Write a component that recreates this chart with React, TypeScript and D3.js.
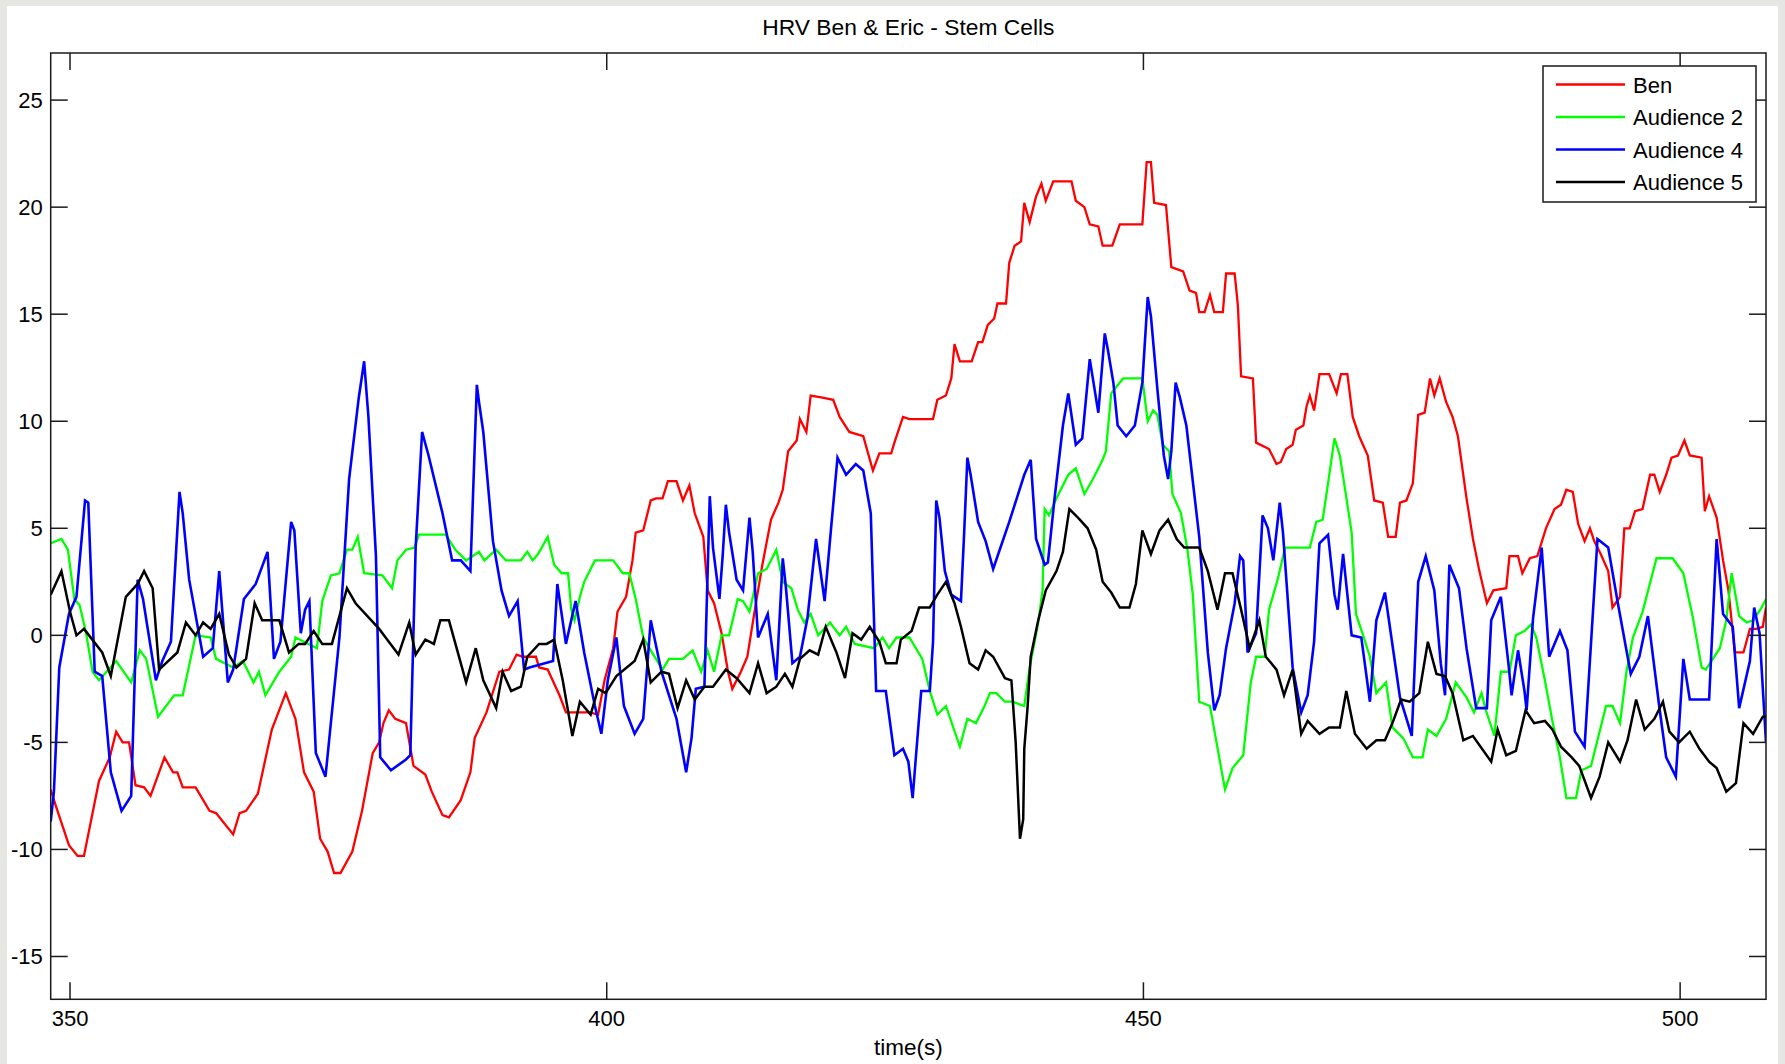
import React, { useEffect, useRef } from 'react';
import * as d3 from 'd3';

// [time (s), HRV] vertices
const ben: [number, number][] = [
  [348.2, -7.2], [348.7, -8.0], [349.9, -9.8], [350.7, -10.3], [351.3, -10.3], [352.7, -6.8], [353.7, -5.7],
  [354.3, -4.5], [354.9, -5.0], [355.5, -5.0], [356.1, -7.0], [356.9, -7.1], [357.5, -7.5], [358.8, -5.7],
  [359.6, -6.4], [360, -6.4], [360.5, -7.1], [361.7, -7.1], [363, -8.2], [363.6, -8.3], [365.2, -9.3],
  [365.8, -8.3], [366.4, -8.2], [367.5, -7.4], [368.8, -4.4], [370.1, -2.7], [371, -3.9], [371.8, -6.4],
  [372.7, -7.3], [373.3, -9.5], [374, -10.1], [374.6, -11.1], [375.2, -11.1], [376.3, -10.1], [377.2, -8.2],
  [378.2, -5.5], [378.8, -5.0], [379.2, -4.1], [379.7, -3.5], [380.3, -3.9], [381.3, -4.1], [382, -6.1],
  [383.1, -6.5], [383.7, -7.3], [384.7, -8.4], [385.3, -8.5], [386.4, -7.7], [387.3, -6.4], [387.7, -4.8],
  [388.8, -3.6], [390, -1.7], [390.9, -1.6], [391.6, -0.9], [392.2, -1.0], [393.4, -1.0], [393.7, -1.5],
  [394.5, -1.6], [395.6, -2.8], [396.2, -3.6], [398.4, -3.6], [399.2, -3.7], [399.8, -2.1], [400.6, -0.6],
  [401, 1.1], [401.8, 1.8], [402.4, 3.5], [402.7, 4.8], [403.4, 4.9], [404.1, 6.3], [404.6, 6.4], [405.2, 6.4],
  [405.7, 7.2], [406.5, 7.2], [407.1, 6.3], [407.7, 7.0], [408.2, 5.7], [409, 4.6], [409.4, 2.1], [410, 1.5],
  [410.7, 0.1], [411.3, -1.7], [411.7, -2.5], [412.5, -1.7], [413.1, -1.0], [413.8, 1.2], [414.5, 3.3],
  [415.3, 5.4], [416, 6.2], [416.4, 6.8], [416.9, 8.6], [417.7, 9.1], [418, 10.1], [418.6, 9.5], [419, 11.2],
  [420.1, 11.1], [421.1, 11.0], [421.7, 10.2], [422.6, 9.5], [423.9, 9.3], [424.8, 7.7], [425.4, 8.5],
  [426.5, 8.5], [426.8, 9.0], [427.6, 10.2], [428.2, 10.1], [430.4, 10.1], [430.8, 11.0], [431.6, 11.2],
  [432.1, 12.0], [432.4, 13.6], [432.9, 12.8], [434, 12.8], [434.6, 13.7], [435, 13.7], [435.5, 14.5],
  [436.1, 14.8], [436.4, 15.5], [437.2, 15.5], [437.5, 17.4], [438, 18.2], [438.6, 18.4], [438.9, 20.2],
  [439.4, 19.3], [440, 20.5], [440.5, 21.1], [440.9, 20.3], [441.6, 21.2], [443.3, 21.2], [443.7, 20.3],
  [444.5, 20.0], [445, 19.2], [445.8, 19.1], [446.2, 18.2], [447.1, 18.2], [447.8, 19.2], [449.9, 19.2],
  [450.3, 22.1], [450.7, 22.1], [451, 20.2], [452.1, 20.1], [452.6, 17.2], [453.7, 17.0], [454.3, 16.1],
  [454.9, 16.0], [455.2, 15.1], [455.7, 15.1], [456.2, 15.9], [456.6, 15.1], [457.4, 15.1], [457.7, 16.9],
  [458.5, 16.9], [458.8, 15.4], [459.1, 12.1], [460.2, 12.0], [460.5, 9.0], [461.7, 8.7], [462.4, 8.0],
  [462.8, 8.1], [463.3, 8.7], [463.9, 8.9], [464.2, 9.6], [464.9, 9.8], [465.2, 10.7], [465.5, 11.2],
  [465.9, 10.5], [466.4, 12.2], [467.3, 12.2], [468, 11.3], [468.4, 12.2], [469, 12.2], [469.5, 10.2],
  [470.1, 9.3], [470.9, 8.4], [471.5, 6.3], [472.3, 6.2], [472.8, 4.6], [473.5, 4.6], [473.9, 6.2],
  [474.5, 6.3], [475.1, 7.1], [475.6, 10.3], [476.2, 10.4], [476.7, 12.0], [477.1, 11.2], [477.6, 12.0],
  [478.2, 10.9], [478.8, 10.2], [479.3, 9.3], [480.1, 6.4], [480.7, 4.5], [481.3, 3.0], [482, 1.5],
  [482.6, 2.1], [483.8, 2.2], [484.1, 3.7], [484.9, 3.7], [485.3, 2.9], [486, 3.6], [486.7, 3.7], [487.5, 5.0],
  [488.3, 5.9], [488.9, 6.1], [489.4, 6.8], [490, 6.7], [490.5, 5.2], [491.1, 4.4], [491.6, 5.0], [492, 4.4],
  [492.6, 3.8], [493.3, 3.0], [493.7, 1.3], [494.4, 1.8], [494.8, 5.0], [495.3, 5.0], [495.8, 5.8],
  [496.5, 5.9], [497.2, 7.5], [497.6, 7.5], [498.1, 6.7], [498.7, 7.5], [499.2, 8.3], [499.8, 8.4],
  [500.4, 9.1], [500.9, 8.4], [502, 8.3], [502.3, 5.8], [502.7, 6.5], [503.4, 5.5], [504, 3.5], [504.5, 2.1],
  [505.1, -0.8], [505.9, -0.8], [506.5, 0.3], [507.1, 0.3], [507.7, 0.4], [508, 1.3],
];

const audience2: [number, number][] = [
  [348.2, 4.3], [349.2, 4.5], [349.8, 4.0], [350.4, 1.7], [350.9, 1.4], [351.5, 0.1], [352.1, -1.7],
  [352.7, -2.1], [354.3, -1.2], [355.7, -2.2], [356.5, -0.7], [357.1, -1.1], [358.2, -3.8], [359.7, -2.8],
  [360.5, -2.8], [361.7, 0], [363.1, -0.1], [363.6, -1.1], [365.2, -1.5], [366.1, -1.2], [367.1, -2.2],
  [367.6, -1.7], [368.2, -2.8], [369.5, -1.7], [370.6, -1.0], [371, -0.1], [371.8, -0.3], [373, -0.6],
  [373.5, 1.6], [374.3, 2.8], [375.1, 2.9], [375.8, 4.0], [376.3, 4.0], [376.8, 4.6], [377.4, 2.9],
  [379.1, 2.8], [380, 2.2], [380.5, 3.5], [381.3, 4.0], [382.1, 4.1], [382.5, 4.7], [385, 4.7], [385.9, 4.0],
  [386.9, 3.5], [388.1, 3.9], [388.6, 3.5], [389.7, 4.0], [390.6, 3.5], [392, 3.5], [392.6, 3.9], [393.1, 3.5],
  [393.6, 3.8], [394.5, 4.6], [395.1, 3.3], [395.8, 2.9], [396.4, 2.9], [396.7, 1.2], [397, 0.7], [397.5, 1.8],
  [397.9, 2.5], [398.9, 3.5], [400.6, 3.5], [401.5, 2.9], [402.1, 2.9], [402.7, 1.7], [403.4, -0.1],
  [404.1, -0.7], [405.2, -1.6], [405.8, -1.1], [407.1, -1.1], [408, -0.7], [408.8, -1.7], [409.4, -0.7],
  [410, -1.7], [410.7, 0], [411.4, 0], [412.2, 1.7], [412.7, 1.6], [413.3, 1.1], [414.1, 2.9], [414.9, 3.1],
  [415.8, 4.0], [416.4, 2.5], [417.2, 2.2], [417.8, 1.2], [418.4, 0.6], [419, 1.0], [419.7, 0], [420.8, 0.6],
  [421.7, 0], [422.3, 0.4], [423.1, -0.4], [424.9, -0.6], [425.7, -0.1], [426.3, -0.6], [427, -0.1],
  [428.2, -0.1], [429.4, -1.1], [430.1, -2.6], [430.8, -3.7], [431.6, -3.3], [432.9, -5.2], [433.6, -3.9],
  [434.4, -4.1], [435.2, -3.3], [435.7, -2.7], [436.3, -2.7], [437.1, -3.1], [437.8, -3.1], [438.9, -3.3],
  [439.4, -1.5], [440.2, 0.6], [440.6, 2.1], [440.8, 5.9], [441.2, 5.6], [441.9, 6.4], [443, 7.5],
  [443.7, 7.8], [444.5, 6.6], [445.3, 7.3], [446.2, 8.2], [446.5, 8.6], [447, 11.3], [448.1, 12.0],
  [449.9, 12.0], [450.4, 10.0], [450.9, 10.5], [451.3, 10.3], [451.8, 8.9], [452.4, 8.6], [452.7, 6.6],
  [453.5, 5.7], [454.1, 4.0], [454.6, 1.9], [455.2, -3.1], [456.2, -3.3], [457.6, -7.2], [458.3, -6.2],
  [459.3, -5.6], [460, -2.2], [460.5, -1.0], [461.3, -1.0], [461.7, 1.2], [462.5, 2.6], [463.2, 4.1],
  [465.5, 4.1], [466.1, 5.3], [466.7, 5.4], [467.2, 7.1], [467.8, 9.2], [468.3, 8.4], [468.7, 7.1],
  [469.4, 4.8], [469.8, 1.0], [470.4, 0.1], [471.1, -1.0], [471.7, -2.7], [472.6, -2.2], [473.2, -4.3],
  [474.2, -4.8], [475.1, -5.7], [476, -5.7], [476.5, -4.4], [477.3, -4.7], [478.2, -3.9], [479.1, -2.2],
  [480.1, -2.9], [480.8, -3.6], [481.5, -2.7], [481.9, -3.5], [482.7, -4.7], [483.3, -1.7], [484.1, -1.7],
  [484.7, 0], [485.5, 0.2], [486.1, 0.5], [486.6, -0.1], [487.4, -2.1], [488.1, -4.0], [488.8, -5.7],
  [489.4, -7.6], [490.3, -7.6], [490.8, -6.3], [491.7, -6.1], [493.1, -3.3], [493.7, -3.3], [494.4, -4.1],
  [495, -1.7], [495.6, -0.1], [496.5, 1.1], [497.8, 3.6], [499.3, 3.6], [500.3, 2.9], [501.2, 0.8],
  [502, -1.5], [502.4, -1.6], [503.7, -0.6], [504.3, 0.7], [504.8, 2.9], [505.5, 0.9], [506.2, 0.6],
  [506.8, 0.7], [507.6, 1.3], [508, 1.7],
];

const audience4: [number, number][] = [
  [348.2, -8.7], [348.5, -7.3], [349, -1.5], [349.9, 1.0], [350.6, 1.8], [351.4, 6.3], [351.7, 6.2],
  [352.3, -1.7], [353, -1.9], [353.8, -6.4], [354.8, -8.2], [355.7, -7.5], [356.3, 2.6], [356.8, 1.7],
  [358, -2.1], [358.6, -1.2], [359.4, -0.3], [360.2, 6.7], [360.5, 5.7], [361.1, 2.6], [362.4, -1.0],
  [363.3, -0.6], [363.9, 3.0], [364.7, -2.2], [365.2, -1.6], [366.2, 1.7], [367.3, 2.4], [368.4, 3.9],
  [369, -1.1], [369.6, -0.3], [370.6, 5.3], [370.9, 4.9], [371.5, 0.1], [371.9, 1.2], [372.3, 1.6],
  [372.9, -5.5], [373.8, -6.6], [375.1, -0.1], [376, 7.3], [376.9, 11.1], [377.4, 12.8], [377.8, 10.2],
  [378.5, 3.7], [378.9, -5.7], [379.9, -6.3], [381.3, -5.8], [381.7, -5.6], [382.2, 4.1], [382.8, 9.5],
  [383.4, 8.4], [384.7, 5.7], [385.6, 3.5], [386.4, 3.5], [387.3, 3.0], [387.9, 11.7], [388.1, 10.9],
  [388.5, 9.5], [389.4, 4.4], [390.2, 2.1], [390.9, 0.9], [391.7, 1.6], [392.3, -1.6], [392.8, -1.5],
  [395, -1.2], [395.4, 2.4], [396.2, -0.4], [397.1, 1.6], [397.9, -0.8], [398.9, -3.3], [399.5, -4.6],
  [400.1, -2.1], [400.9, -0.1], [401.6, -3.3], [402.6, -4.6], [403.4, -3.9], [404.1, 0.7], [405.1, -1.7],
  [406.5, -3.9], [407.4, -6.4], [407.9, -4.8], [408.3, -2.5], [409.1, -2.4], [409.6, 6.5], [409.9, 4.1],
  [410.5, 1.7], [410.8, 3.7], [411.1, 6.1], [411.4, 4.8], [412.1, 2.6], [412.7, 2.1], [413.3, 5.5],
  [413.6, 3.9], [414.1, -0.1], [415, 1.0], [415.8, -2.1], [416.4, 3.6], [416.7, 2.2], [417.3, -1.3],
  [418, -1.0], [418.7, 0.8], [419.5, 4.5], [420.3, 1.6], [420.9, 5.0], [421.5, 8.3], [422.3, 7.5],
  [423.2, 8.0], [423.9, 7.7], [424.6, 5.7], [425.1, -2.6], [426, -2.6], [426.8, -5.6], [427.6, -5.3],
  [428.1, -5.9], [428.5, -7.6], [428.8, -5.7], [429.3, -2.6], [430.1, -2.6], [430.4, -0.3], [430.7, 6.3],
  [431, 5.5], [431.5, 3.0], [432.1, 1.9], [433, 1.6], [433.3, 4.8], [433.6, 8.3], [433.9, 7.5], [434.6, 5.3],
  [435.3, 4.4], [436, 3.1], [437.5, 5.3], [438.9, 7.5], [439.5, 8.2], [440, 4.5], [440.8, 3.3], [441.1, 3.4],
  [441.7, 6.3], [442.5, 9.8], [443, 11.3], [443.7, 8.9], [444.3, 9.2], [445, 12.9], [445.8, 10.4],
  [446.4, 14.1], [446.7, 13.3], [447.2, 11.8], [447.6, 9.8], [448.4, 9.3], [449.2, 9.8], [449.9, 11.8],
  [450.4, 15.8], [450.7, 14.9], [451.3, 11.5], [451.9, 8.4], [452.3, 7.3], [452.6, 8.6], [453, 11.8],
  [453.4, 11.1], [454, 9.8], [455.2, 4.6], [456, -0.8], [456.6, -3.5], [457.1, -2.8], [457.7, -0.6],
  [458.5, 1.5], [459, 3.7], [459.3, 3.5], [459.7, -0.8], [460.5, 0.1], [461.1, 5.6], [461.6, 5.0],
  [462.1, 3.5], [462.7, 6.2], [463, 4.8], [463.9, -1.5], [464.7, -3.6], [465.3, -2.8], [465.9, -0.3],
  [466.4, 4.3], [467.2, 4.7], [467.8, 1.9], [468.1, 1.2], [468.6, 3.8], [469.4, 0], [470.3, -0.1],
  [471.1, -3.1], [471.7, 0.7], [472.5, 2.0], [473.1, -0.1], [473.9, -2.9], [475, -4.7], [475.6, 2.5],
  [476.3, 3.7], [477.1, 2.1], [477.7, -1.3], [478.1, -2.8], [478.5, 3.3], [479.4, 2.2], [480.1, -0.6],
  [481, -3.4], [482, -3.4], [482.4, 0.7], [483.3, 1.8], [484, -1.3], [484.3, -2.8], [484.9, -0.7],
  [485.5, -2.6], [485.7, -3.5], [486.3, 0.8], [487.1, 4.1], [487.8, -1.0], [488.8, 0.2], [489.5, -0.7],
  [490.2, -4.5], [491.1, -5.2], [492.3, 4.5], [493.3, 4.1], [494.2, 1.5], [495.4, -1.8], [496.2, -1.0],
  [497, 0.9], [498.1, -3.5], [498.7, -5.7], [499.6, -6.6], [500.3, -1.1], [500.9, -3.0], [502.7, -3.0],
  [503.4, 4.5], [504, 1.0], [504.9, 0.4], [505.5, -3.4], [506.5, -1.2], [506.9, 1.3], [507.4, 0.1],
  [508, -5.0],
];

const audience5: [number, number][] = [
  [348.2, 1.9], [349.2, 3.0], [350, 1.1], [350.6, 0], [351.3, 0.3], [353, -0.8], [353.8, -1.9], [355.2, 1.8],
  [356.3, 2.4], [356.9, 3.0], [357.7, 2.2], [358.3, -1.6], [360, -0.8], [360.8, 0.6], [361.7, 0], [362.4, 0.6],
  [363.1, 0.3], [363.9, 1.0], [364.8, -0.9], [365.5, -1.5], [366.4, -1.1], [367.2, 1.5], [367.9, 0.7],
  [369.5, 0.7], [370.4, -0.8], [371.3, -0.4], [371.9, -0.4], [372.7, 0.2], [373.5, -0.4], [374.4, -0.4],
  [375.8, 2.2], [376.6, 1.5], [378.8, 0.3], [379.4, -0.1], [380.6, -0.9], [381.6, 0.6], [382.2, -0.9],
  [383.1, -0.2], [383.9, -0.4], [384.5, 0.7], [385.3, 0.7], [386.9, -2.2], [387.8, -0.6], [388.5, -2.1],
  [389.7, -3.4], [390.3, -1.7], [391.1, -2.6], [392, -2.4], [392.6, -1.0], [393.7, -0.4], [394.4, -0.4],
  [395.1, -0.2], [395.9, -2.1], [396.8, -4.7], [397.5, -3.1], [398.5, -3.7], [399.2, -2.5], [399.9, -2.7],
  [400.9, -1.9], [402.6, -1.2], [403.4, -0.2], [404.1, -2.2], [405.1, -1.7], [405.8, -1.8], [406.6, -3.4],
  [407.4, -2.1], [408.2, -3.0], [409.1, -2.4], [409.9, -2.4], [411.1, -1.6], [412.1, -2.0], [413.3, -2.7],
  [414.1, -1.3], [414.9, -2.7], [415.8, -2.4], [416.6, -1.8], [417.3, -2.4], [418, -1.1], [418.9, -0.7],
  [419.7, -0.9], [420.4, 0.4], [421.4, -0.8], [422.2, -2.0], [422.9, 0.1], [423.7, -0.2], [424.5, 0.4],
  [425.4, -0.3], [426, -1.3], [427, -1.3], [427.4, -0.2], [428.4, 0.2], [429.1, 1.3], [430.1, 1.3],
  [430.8, 1.9], [431.6, 2.5], [432.4, 1.5], [433, 0.4], [433.8, -1.3], [434.6, -1.6], [435.3, -0.7],
  [436, -1.0], [437.1, -2.0], [437.7, -2.1], [438.1, -5.0], [438.5, -9.5], [438.8, -8.6], [438.9, -5.3],
  [439.2, -3.4], [439.5, -1.0], [440.2, 0.7], [440.9, 2.1], [441.9, 3.0], [442.5, 3.9], [443.1, 5.9],
  [443.9, 5.5], [444.8, 5.0], [445.6, 4.0], [446.2, 2.5], [447, 2.0], [447.8, 1.3], [448.7, 1.3],
  [449.3, 2.4], [449.9, 4.9], [450.7, 3.8], [451.5, 4.9], [452.3, 5.4], [453.1, 4.5], [453.8, 4.1],
  [455.2, 4.1], [456, 3.0], [456.9, 1.2], [457.6, 2.9], [458.3, 2.9], [459.1, 1.2], [459.9, -0.6],
  [460.8, 0.7], [461.4, -1.0], [462.4, -1.6], [463.1, -2.8], [463.9, -1.6], [464.7, -4.6], [465.3, -4.0],
  [466.4, -4.6], [467.3, -4.3], [468.3, -4.3], [468.9, -2.6], [469.7, -4.6], [470.8, -5.3], [471.7, -4.9],
  [472.5, -4.9], [473.2, -4.1], [474, -3.0], [474.8, -3.1], [475.7, -2.7], [476.5, -0.3], [477.3, -1.8],
  [478.1, -1.9], [478.8, -2.7], [479.8, -4.9], [480.7, -4.7], [482.4, -5.9], [483, -4.4], [483.8, -5.6],
  [484.7, -5.4], [485.6, -3.5], [486.4, -4.1], [487.4, -4.0], [488.1, -4.4], [488.9, -5.2], [489.9, -5.7],
  [490.6, -6.1], [491.7, -7.6], [492.5, -6.6], [493.3, -5.0], [494.4, -5.9], [495.1, -4.9], [495.9, -3.0],
  [496.7, -4.4], [497.6, -3.9], [498.4, -3.1], [499, -4.5], [499.9, -5.0], [500.9, -4.5], [501.8, -5.3],
  [502.7, -5.9], [503.4, -6.2], [504.3, -7.3], [505.2, -6.9], [505.9, -4.1], [506.8, -4.6], [507.7, -3.8],
  [508, -3.8],
];

const seriesNames = ['Ben', 'Audience 2', 'Audience 4', 'Audience 5'];
const seriesColors = ['#ff0000', '#00ff00', '#0000ff', '#000000'];
const seriesData = [ben, audience2, audience4, audience5];
const xTicks = [350, 400, 450, 500];
const yTicks = [-15, -10, -5, 0, 5, 10, 15, 20, 25];

const W = 1785;
const H = 1064;
const FONT = '"Liberation Sans", Arial, Helvetica, sans-serif';

export default function App() {
  const svgRef = useRef<SVGSVGElement>(null);

  useEffect(() => {
    if (!svgRef.current) return;
    const svg = d3.select(svgRef.current);
    svg.selectAll('*').remove();

    const plot = { left: 50.7, right: 1766, top: 53, bottom: 999.3 };
    const x = d3.scaleLinear().domain([348.2, 508]).range([plot.left, plot.right]);
    const y = d3.scaleLinear().domain([-17, 27.2]).range([plot.bottom, plot.top]);

    // page background + white figure
    svg.append('rect').attr('width', W).attr('height', H).attr('fill', '#e6e6e2');
    svg.append('rect').attr('x', 7).attr('y', 6).attr('width', 1771).attr('height', H - 6).attr('fill', '#ffffff');

    svg.append('defs').append('clipPath').attr('id', 'plot-clip')
      .append('rect')
      .attr('x', plot.left).attr('y', plot.top)
      .attr('width', plot.right - plot.left).attr('height', plot.bottom - plot.top);

    // lines
    const line = d3.line<[number, number]>()
      .x(d => x(d[0]))
      .y(d => y(d[1]));

    const widths = [2.3, 2.3, 2.6, 2.5];
    const lines = svg.append('g').attr('clip-path', 'url(#plot-clip)');
    seriesData.forEach((data, i) => {
      lines.append('path')
        .attr('d', line(data) || '')
        .attr('fill', 'none')
        .attr('stroke', seriesColors[i])
        .attr('stroke-width', widths[i])
        .attr('stroke-linejoin', 'miter');
    });

    // axes box
    const axisColor = '#1a1a1a';
    svg.append('rect')
      .attr('x', plot.left).attr('y', plot.top)
      .attr('width', plot.right - plot.left).attr('height', plot.bottom - plot.top)
      .attr('fill', 'none').attr('stroke', axisColor).attr('stroke-width', 1.5);

    const tickLen = 17;
    xTicks.forEach(t => {
      const px = x(t);
      svg.append('line').attr('x1', px).attr('x2', px)
        .attr('y1', plot.bottom).attr('y2', plot.bottom - tickLen)
        .attr('stroke', axisColor).attr('stroke-width', 1.5);
      svg.append('line').attr('x1', px).attr('x2', px)
        .attr('y1', plot.top).attr('y2', plot.top + tickLen)
        .attr('stroke', axisColor).attr('stroke-width', 1.5);
      svg.append('text')
        .attr('x', px).attr('y', plot.bottom + 27)
        .attr('text-anchor', 'middle')
        .attr('font-family', FONT).attr('font-size', 22).attr('fill', '#000')
        .text(t);
    });

    yTicks.forEach(v => {
      const py = y(v);
      svg.append('line').attr('x1', plot.left).attr('x2', plot.left + tickLen)
        .attr('y1', py).attr('y2', py)
        .attr('stroke', axisColor).attr('stroke-width', 1.5);
      svg.append('line').attr('x1', plot.right).attr('x2', plot.right - tickLen)
        .attr('y1', py).attr('y2', py)
        .attr('stroke', axisColor).attr('stroke-width', 1.5);
      svg.append('text')
        .attr('x', plot.left - 8).attr('y', py + 8)
        .attr('text-anchor', 'end')
        .attr('font-family', FONT).attr('font-size', 22).attr('fill', '#000')
        .text(v);
    });

    // title and x label
    const cx = (plot.left + plot.right) / 2;
    svg.append('text')
      .attr('x', cx).attr('y', 35)
      .attr('text-anchor', 'middle')
      .attr('font-family', FONT).attr('font-size', 22.8).attr('fill', '#000')
      .text('HRV Ben & Eric - Stem Cells');
    svg.append('text')
      .attr('x', cx).attr('y', 1055)
      .attr('text-anchor', 'middle')
      .attr('font-family', FONT).attr('font-size', 22.5).attr('fill', '#000')
      .text('time(s)');

    // legend
    const lg = svg.append('g');
    lg.append('rect')
      .attr('x', 1543).attr('y', 66).attr('width', 213).attr('height', 136)
      .attr('fill', '#ffffff').attr('stroke', axisColor).attr('stroke-width', 1.5);
    seriesNames.forEach((name, i) => {
      const ry = 84.5 + i * 32.5;
      lg.append('line')
        .attr('x1', 1556).attr('x2', 1625).attr('y1', ry).attr('y2', ry)
        .attr('stroke', seriesColors[i]).attr('stroke-width', 2.5);
      lg.append('text')
        .attr('x', 1633).attr('y', ry + 8)
        .attr('font-family', FONT).attr('font-size', 22).attr('fill', '#000')
        .text(name);
    });
  }, []);

  return (
    <svg
      ref={svgRef}
      width={W}
      height={H}
      style={{ position: 'absolute', left: 0, top: 0, display: 'block' }}
    />
  );
}
